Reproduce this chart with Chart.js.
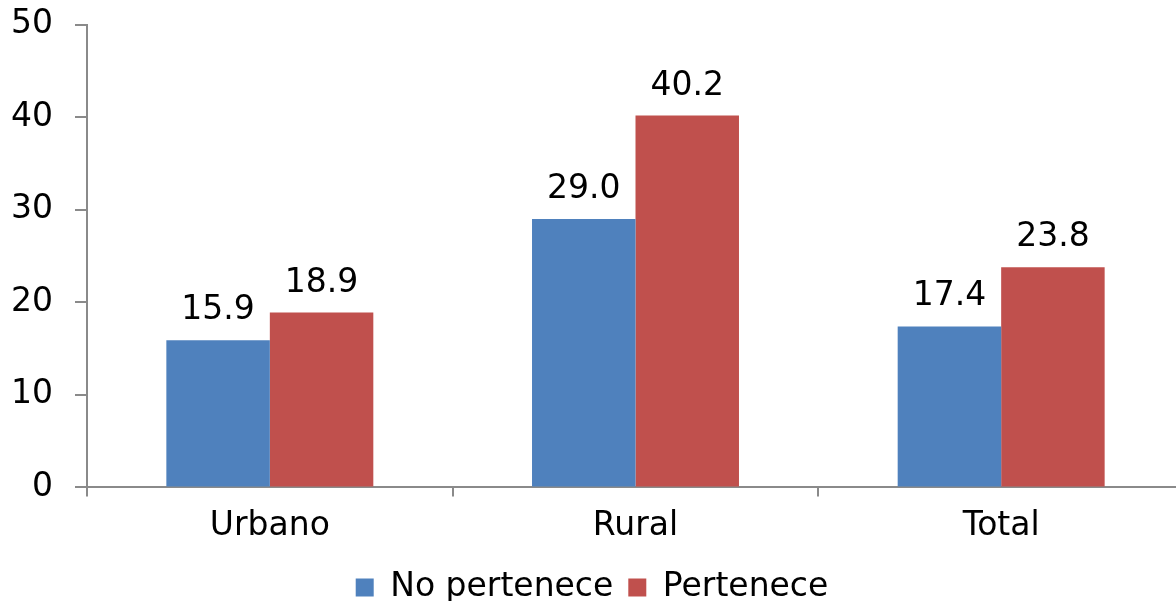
<!DOCTYPE html>
<html>
<head>
<meta charset="utf-8">
<script src="https://cdn.jsdelivr.net/npm/chart.js@4"></script>
<style>
  html, body { margin: 0; padding: 0; background: #fff; overflow: hidden; width: 1176px; height: 601px; }
  #wrap { position: absolute; left: 0; top: -17px; width: 1184px; height: 631px; }
</style>
</head>
<body>
<div id="wrap"><canvas id="chart"></canvas></div>
<script>
const categories = ['Urbano', 'Rural', 'Total'];
const noPertenece = [15.9, 29.0, 17.4];
const pertenece = [18.9, 40.2, 23.8];
const seriesNames = ['No pertenece', 'Pertenece'];

const palette = { blue: '#4F81BD', red: '#C0504D', axis: '#8a8a8a', text: '#000' };
const font = { family: '"DejaVu Sans", Verdana, sans-serif', size: 33 };

// draw values above each bar
const valueLabels = {
    id: 'valueLabels',
    afterDatasetsDraw(chart) {
        const ctx = chart.ctx;
        ctx.save();
        ctx.font = font.size + 'px ' + font.family;
        ctx.fillStyle = palette.text;
        ctx.textAlign = 'center';
        ctx.textBaseline = 'bottom';
        chart.data.datasets.forEach((ds, i) => {
            chart.getDatasetMeta(i).data.forEach((bar, j) => {
                ctx.fillText(ds.data[j].toFixed(1), bar.x, bar.y - 13);
            });
        });
        ctx.restore();
    }
};

new Chart(document.getElementById('chart'), {
    type: 'bar',
    data: {
        labels: categories,
        datasets: [
            { label: seriesNames[0], data: noPertenece, backgroundColor: palette.blue },
            { label: seriesNames[1], data: pertenece, backgroundColor: palette.red }
        ]
    },
    options: {
        responsive: true,
        maintainAspectRatio: false,
        animation: false,
        layout: { padding: { top: 0, right: 0, left: 0, bottom: 0 } },
        datasets: { bar: { barPercentage: 1, categoryPercentage: 0.566 } },
        plugins: {
            legend: {
                position: 'bottom',
                labels: { color: palette.text, font, boxWidth: 18, boxHeight: 18, padding: 15 }
            },
            tooltip: { enabled: false }
        },
        scales: {
            x: {
                grid: { drawOnChartArea: false, color: palette.axis, lineWidth: 2, tickLength: 9 },
                border: { color: palette.axis, width: 2 },
                ticks: { color: palette.text, font, padding: 10 }
            },
            y: {
                min: 0,
                max: 50,
                afterFit: (scale) => { scale.width = 87; },
                ticks: { stepSize: 10, color: palette.text, font, padding: 22 },
                grid: { drawOnChartArea: false, color: palette.axis, lineWidth: 2, tickLength: 12 },
                border: { color: palette.axis, width: 2 }
            }
        }
    },
    plugins: [valueLabels]
});
</script>
</body>
</html>
